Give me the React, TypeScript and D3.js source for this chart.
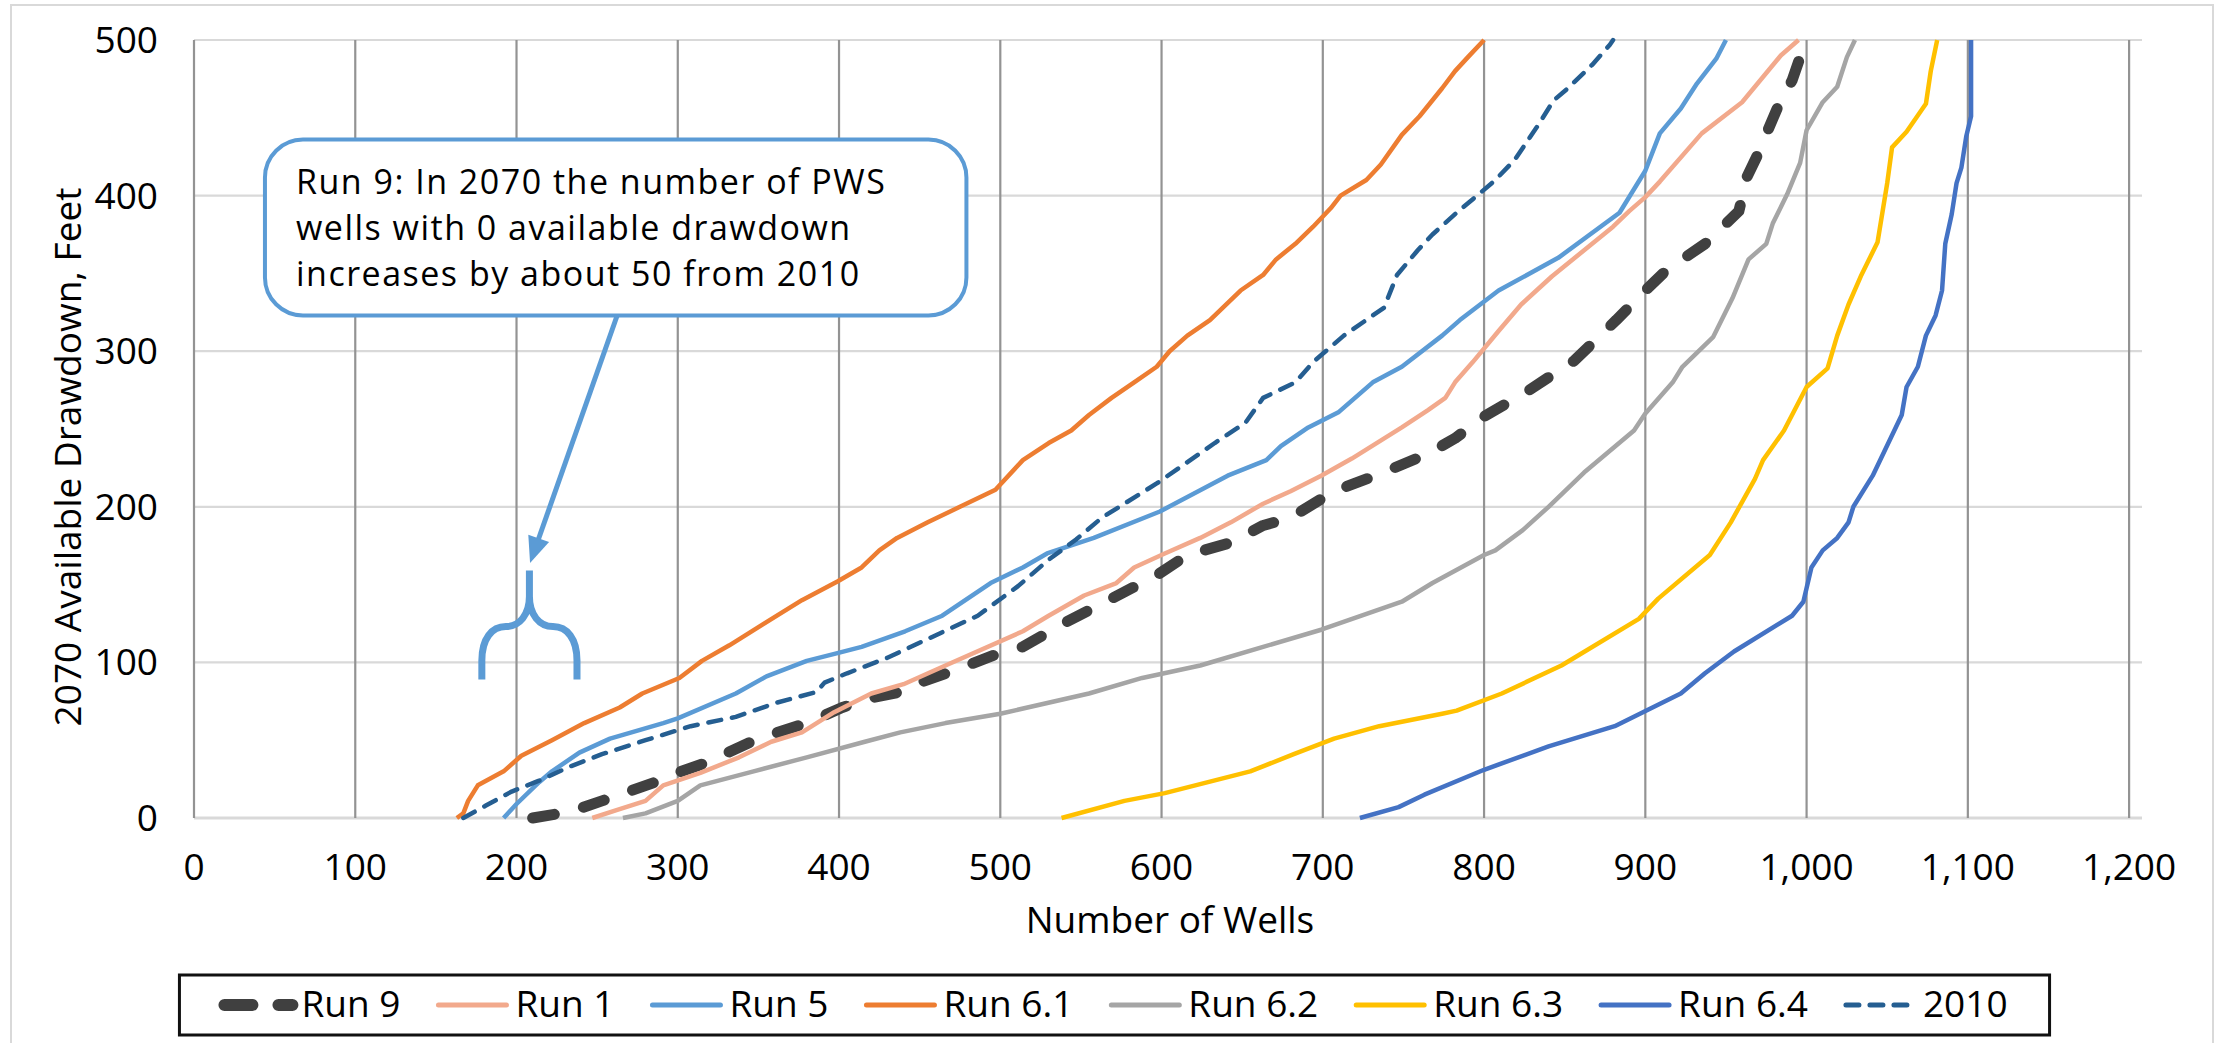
import { useRef, useEffect } from 'react'
import * as d3 from 'd3'

type Pt = [number, number] // [number of wells, available drawdown (ft)]

const run9: Pt[] = [
  [210, 0], [233, 4], [253, 11], [264, 15], [286, 23], [294, 27], [316, 35], [350, 51], [380, 61],
  [402, 71], [419, 77], [438, 81], [450, 87], [472, 95], [497, 105], [514, 110], [541, 126], [569, 141],
  [597, 156], [616, 169], [643, 177], [663, 188], [680, 193], [707, 210], [735, 221], [765, 234],
  [782, 244], [800, 258], [828, 275], [856, 294], [882, 320], [900, 339], [913, 352], [937, 369],
  [958, 390], [963, 412], [970, 427], [976, 442], [983, 459], [991, 474], [996, 489], [998, 492]
]
const run1: Pt[] = [
  [247, 0], [262, 5], [280, 11], [291, 21], [314, 29], [338, 39], [358, 49], [377, 55], [397, 68],
  [420, 80], [440, 86], [466, 98], [514, 120], [530, 130], [552, 143], [572, 151], [583, 161], [602, 170],
  [624, 180], [643, 190], [663, 202], [680, 210], [699, 220], [718, 231], [749, 251], [765, 262],
  [776, 270], [782, 280], [793, 293], [809, 313], [823, 330], [842, 348], [880, 380], [890, 390],
  [900, 399], [909, 409], [935, 440], [960, 460], [984, 490], [995, 500]
]
const run5: Pt[] = [
  [192, 0], [200, 9], [214, 23], [222, 30], [239, 42], [258, 51], [291, 61], [300, 64], [336, 80],
  [355, 91], [380, 101], [399, 106], [414, 110], [441, 120], [464, 130], [494, 151], [514, 161],
  [529, 170], [558, 180], [599, 197], [641, 220], [665, 230], [674, 239], [691, 251], [710, 261],
  [731, 280], [749, 290], [774, 310], [785, 320], [809, 339], [846, 360], [884, 389], [900, 416],
  [909, 440], [922, 456], [932, 472], [944, 488], [950, 500]
]
const run61: Pt[] = [
  [163, 0], [167, 3], [170, 11], [176, 21], [192, 30], [203, 40], [222, 50], [242, 61], [264, 71],
  [278, 80], [301, 90], [315, 101], [332, 111], [352, 124], [377, 140], [399, 152], [414, 161],
  [425, 172], [436, 180], [455, 190], [475, 200], [497, 211], [514, 230], [530, 241], [544, 249],
  [555, 259], [569, 270], [583, 280], [597, 290], [605, 300], [616, 310], [630, 320], [649, 339],
  [663, 349], [671, 359], [683, 369], [694, 380], [705, 392], [711, 400], [727, 410], [736, 420],
  [749, 439], [760, 451], [774, 469], [782, 480], [790, 489], [800, 500]
]
const run62: Pt[] = [
  [266, 0], [280, 3], [300, 11], [314, 21], [347, 30], [380, 39], [416, 49], [438, 55], [466, 61],
  [500, 67], [555, 80], [588, 90], [624, 98], [663, 110], [699, 121], [724, 130], [749, 139], [768, 151],
  [800, 169], [807, 172], [824, 185], [840, 200], [862, 222], [893, 249], [900, 260], [917, 280],
  [923, 290], [942, 309], [954, 334], [964, 359], [975, 369], [979, 382], [988, 401], [996, 421],
  [1000, 442], [1010, 460], [1019, 470], [1025, 489], [1030, 500]
]
const run63: Pt[] = [
  [538, 0], [577, 11], [602, 16], [655, 30], [682, 41], [707, 51], [735, 59], [774, 67], [783, 69],
  [811, 80], [848, 98], [896, 128], [908, 141], [940, 169], [953, 190], [968, 218], [973, 230],
  [986, 249], [1000, 277], [1013, 289], [1019, 310], [1026, 330], [1034, 349], [1044, 370],
  [1050, 408], [1053, 431], [1062, 441], [1074, 459], [1077, 480], [1081, 500]
]
const run64: Pt[] = [
  [723, 0], [747, 7], [763, 15], [800, 31], [840, 46], [881, 59], [922, 80], [937, 93], [955, 107],
  [991, 130], [998, 139], [1003, 161], [1010, 172], [1019, 180], [1026, 190], [1029, 200], [1041, 220],
  [1059, 259], [1062, 277], [1069, 290], [1074, 310], [1080, 323], [1084, 339], [1086, 369],
  [1090, 388], [1093, 408], [1096, 418], [1099, 438], [1102, 451], [1102, 500]
]
const base2010: Pt[] = [
  [167, 0], [181, 8], [197, 17], [214, 24], [233, 33], [253, 41], [280, 50], [308, 59], [336, 65],
  [361, 74], [386, 81], [391, 87], [405, 93], [430, 103], [486, 130], [511, 149], [530, 166], [547, 179],
  [563, 193], [597, 215], [633, 241], [652, 254], [663, 270], [683, 280], [694, 293], [713, 310],
  [738, 328], [746, 349], [759, 365], [768, 375], [783, 389], [798, 402], [807, 410], [819, 423],
  [834, 446], [843, 461], [852, 469], [867, 484], [878, 497], [880, 500]
]

const seriesNames = ["Run 9", "Run 1", "Run 5", "Run 6.1", "Run 6.2", "Run 6.3", "Run 6.4", "2010"]
const seriesData = [run9, run1, run5, run61, run62, run63, run64, base2010]
const seriesColors = ["#404040", "#F2A98C", "#5B9BD5", "#ED7D31", "#A5A5A5", "#FFC000", "#4472C4", "#255E91"]

const xTickValues = [0, 100, 200, 300, 400, 500, 600, 700, 800, 900, 1000, 1100, 1200]
const yTickValues = [0, 100, 200, 300, 400, 500]

const annotationLines = [
  "Run 9: In 2070 the number of PWS",
  "wells with 0 available drawdown",
  "increases by about 50 from 2010"
]

const FONT = "'Open Sans', Lato, sans-serif"

export default function App() {
  const svgRef = useRef<SVGSVGElement>(null)

  useEffect(() => {
    if (!svgRef.current) return
    const svg = d3.select(svgRef.current)
    svg.selectAll("*").remove()

    const x = d3.scaleLinear().domain([0, 1208]).range([194, 2142])
    const y = d3.scaleLinear().domain([0, 500]).range([818, 40])

    // chart border
    svg.append("rect")
      .attr("x", 11).attr("y", 5).attr("width", 2202).attr("height", 1050)
      .attr("fill", "#fff").attr("stroke", "#D9D9D9").attr("stroke-width", 2)

    // horizontal gridlines
    svg.append("g").selectAll("line")
      .data(yTickValues).enter().append("line")
      .attr("x1", x(0)).attr("x2", x(1208))
      .attr("y1", d => y(d)).attr("y2", d => y(d))
      .attr("stroke", "#D9D9D9").attr("stroke-width", d => d === 0 ? 3 : 2.2)

    // vertical gridlines
    svg.append("g").selectAll("line")
      .data(xTickValues).enter().append("line")
      .attr("x1", d => x(d)).attr("x2", d => x(d))
      .attr("y1", y(500)).attr("y2", y(0))
      .attr("stroke", "#939393").attr("stroke-width", 2.2)

    // series
    const line = d3.line<Pt>().x(d => x(d[0])).y(d => y(d[1]))
    const g = svg.append("g")
    seriesData.forEach((data, i) => {
      const p = g.append("path")
        .datum(data)
        .attr("d", line)
        .attr("fill", "none")
        .attr("stroke", seriesColors[i])
        .attr("stroke-linejoin", "round")
      if (i === 0) {
        p.attr("stroke-width", 11).attr("stroke-dasharray", "22 30").attr("stroke-linecap", "round")
      } else if (i === 7) {
        p.attr("stroke-width", 4.5).attr("stroke-dasharray", "13 11").attr("stroke-linecap", "round")
      } else {
        p.attr("stroke-width", 4.5)
      }
    })

    // annotation callout
    const boxL = x(44), boxR = x(479), boxT = y(436), boxB = y(323)
    svg.append("rect")
      .attr("x", boxL).attr("y", boxT)
      .attr("width", boxR - boxL).attr("height", boxB - boxT)
      .attr("rx", 38).attr("ry", 38)
      .attr("fill", "#fff").attr("stroke", "#5B9BD5").attr("stroke-width", 4)

    svg.append("g").selectAll("text")
      .data(annotationLines).enter().append("text")
      .attr("x", boxL + 31)
      .attr("y", (_, i) => boxT + 54 + i * 46)
      .attr("font-family", FONT).attr("font-size", 34).attr("letter-spacing", 1.5).attr("fill", "#000")
      .text(d => d)

    // arrow
    const tailX = x(262.3), tailY = y(322.6)
    const tipX = x(208.4), tipY = y(163.9)
    const dx = tipX - tailX, dy = tipY - tailY
    const len = Math.hypot(dx, dy)
    const ux = dx / len, uy = dy / len
    const headLen = 26, headHalf = 11
    svg.append("line")
      .attr("x1", tailX).attr("y1", tailY)
      .attr("x2", tipX - ux * (headLen - 4)).attr("y2", tipY - uy * (headLen - 4))
      .attr("stroke", "#5B9BD5").attr("stroke-width", 5)
    const bx = tipX - ux * headLen, by = tipY - uy * headLen
    svg.append("path")
      .attr("d", `M${tipX},${tipY}L${bx - uy * headHalf},${by + ux * headHalf}L${bx + uy * headHalf},${by - ux * headHalf}Z`)
      .attr("fill", "#5B9BD5")

    // brace
    const cx = x(208), hw = x(237.5) - x(208)
    const bBot = y(89), bSh = y(123), bTop = y(159)
    const bracePath =
      `M${cx - hw},${bBot} L${cx - hw},${bSh + 34} C${cx - hw},${bSh + 12} ${cx - hw + 10},${bSh} ${cx - hw + 24},${bSh}` +
      ` C${cx - 10},${bSh} ${cx},${bSh - 12} ${cx},${bSh - 30} L${cx},${bTop}` +
      ` M${cx + hw},${bBot} L${cx + hw},${bSh + 34} C${cx + hw},${bSh + 12} ${cx + hw - 10},${bSh} ${cx + hw - 24},${bSh}` +
      ` C${cx + 10},${bSh} ${cx},${bSh - 12} ${cx},${bSh - 30}`
    svg.append("path")
      .attr("d", bracePath)
      .attr("fill", "none").attr("stroke", "#5B9BD5").attr("stroke-width", 7)
      .attr("stroke-linejoin", "round")

    // tick labels
    svg.append("g").selectAll("text")
      .data(yTickValues).enter().append("text")
      .attr("x", 158).attr("y", d => y(d) + 13)
      .attr("text-anchor", "end")
      .attr("font-family", FONT).attr("font-size", 37).attr("fill", "#000")
      .text(d => d3.format(",")(d))

    svg.append("g").selectAll("text")
      .data(xTickValues).enter().append("text")
      .attr("x", d => x(d)).attr("y", 880)
      .attr("text-anchor", "middle")
      .attr("font-family", FONT).attr("font-size", 37).attr("fill", "#000")
      .text(d => d3.format(",")(d))

    // axis titles
    svg.append("text")
      .attr("transform", "translate(81,457) rotate(-90)")
      .attr("text-anchor", "middle")
      .attr("font-family", FONT).attr("font-size", 37).attr("fill", "#000")
      .text("2070 Available Drawdown, Feet")

    svg.append("text")
      .attr("x", 1170).attr("y", 933)
      .attr("text-anchor", "middle")
      .attr("font-family", FONT).attr("font-size", 37).attr("fill", "#000")
      .text("Number of Wells")

    // legend
    const lg = svg.append("g")
    const texts = seriesNames.map(name =>
      lg.append("text")
        .attr("y", 1017)
        .attr("font-family", FONT).attr("font-size", 37).attr("fill", "#000")
        .text(name)
    )
    const widths = texts.map(t => (t.node() as SVGTextElement).getComputedTextLength())
    const sampleLen = 68, textOff = 77, itemGap = 38, padL = 45, padR = 42
    const total = padL + padR + d3.sum(widths) + seriesNames.length * textOff + (seriesNames.length - 1) * itemGap
    const left = 1114.5 - total / 2
    lg.insert("rect", ":first-child")
      .attr("x", left).attr("y", 975).attr("width", total).attr("height", 60)
      .attr("fill", "#fff").attr("stroke", "#111").attr("stroke-width", 3)
    let pos = left + padL
    seriesNames.forEach((_, i) => {
      const s = lg.append("line")
        .attr("x1", pos).attr("x2", pos + sampleLen)
        .attr("y1", 1005).attr("y2", 1005)
        .attr("stroke", seriesColors[i])
      if (i === 0) {
        s.attr("stroke-width", 12).attr("stroke-dasharray", "28 26").attr("stroke-linecap", "round")
      } else if (i === 7) {
        s.attr("stroke-width", 5).attr("stroke-dasharray", "13 11").attr("stroke-linecap", "round")
      } else {
        s.attr("stroke-width", 5).attr("stroke-linecap", "round")
      }
      texts[i].attr("x", pos + textOff).raise()
      pos += textOff + widths[i] + itemGap
    })
  }, [])

  return (
    <svg
      ref={svgRef}
      width={2224}
      height={1043}
      style={{ position: 'absolute', left: 0, top: 0, background: '#fff' }}
    />
  )
}
